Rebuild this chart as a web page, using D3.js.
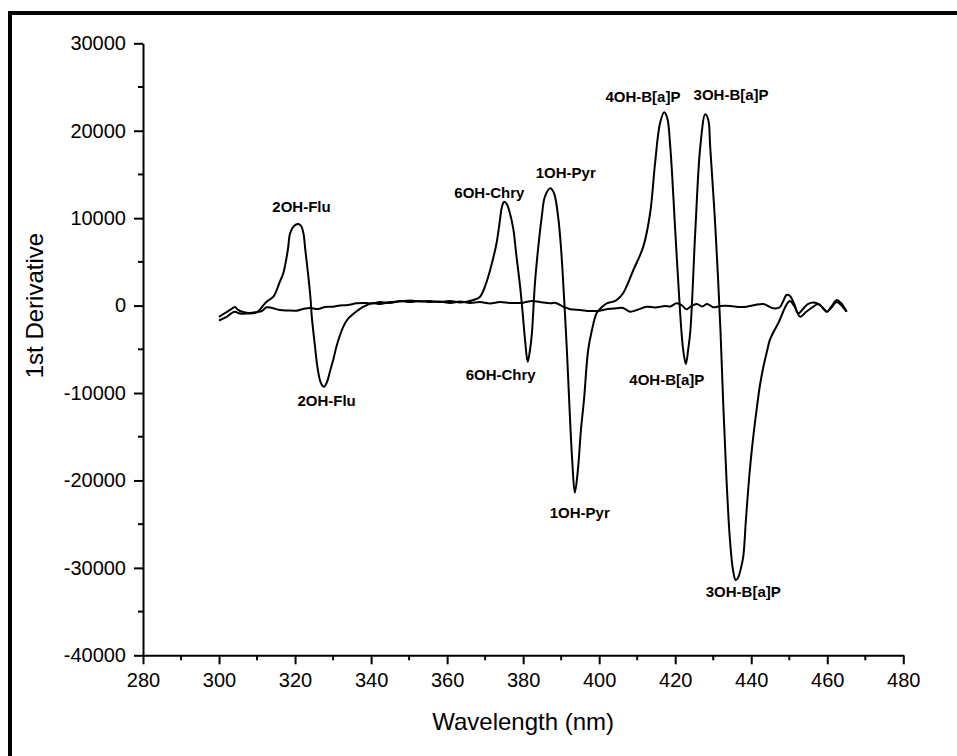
<!DOCTYPE html>
<html>
<head>
<meta charset="utf-8">
<script src="https://cdn.jsdelivr.net/npm/d3@7"></script>
<style>
  html, body { margin: 0; padding: 0; background: #fff; }
  svg { display: block; }
</style>
</head>
<body>
<svg id="chart" width="957" height="756"></svg>
<script>
// ---- Data ----
const wavelength = [300.0,302.0,304.0,305.5,307.5,309.9,312.5,314.3,316.0,316.9,318.1,318.7,319.7,320.9,321.6,322.2,322.7,323.5,324.1,324.4,325.2,326.0,326.8,327.6,328.4,329.2,330.1,331.0,332.7,333.9,334.9,336.3,338.0,340.5,342.3,345.0,347.6,350.2,352.9,355.5,358.1,360.8,363.4,365.2,366.9,368.6,370.4,371.8,373.0,373.9,374.4,375.0,375.7,376.5,377.4,378.2,379.2,379.8,380.5,381.2,381.8,382.3,383.1,383.9,384.9,385.7,387.1,388.1,389.2,390.0,390.6,391.5,392.1,392.9,393.6,394.4,395.2,396.0,397.1,398.1,399.3,400.2,402.0,403.7,404.6,406.3,409.0,411.6,413.4,414.7,416.0,417.1,417.9,418.7,420.0,421.3,422.1,422.8,423.4,424.0,425.3,426.6,427.9,428.7,429.2,430.6,431.9,432.7,433.5,434.4,435.2,435.9,436.5,437.3,437.9,438.6,439.4,440.2,441.4,442.3,443.2,444.1,444.9,446.0,447.1,448.4,449.5,450.2,451.3,452.9,454.4,456.3,457.6,458.6,459.9,461.0,462.5,463.6,465.1];
const sampleDeriv = [-1700,-1300,-700,-900,-900,-770,450,1020,2730,3690,6360,8270,9100,9330,9100,8270,6360,3300,640,-1270,-4500,-7360,-8850,-9280,-8740,-7500,-6100,-4500,-2410,-1530,-1100,-620,-130,300,180,410,470,580,470,530,410,530,350,450,640,980,2730,4870,7130,9790,11280,11880,11600,10600,8800,5790,2160,-500,-3930,-6420,-5080,-3170,2550,6360,10170,12420,13420,12880,10170,6360,2160,-5080,-10800,-17660,-21400,-18800,-14230,-10800,-5080,-2790,-880,-390,260,450,640,1410,4070,6740,10560,16280,20850,22110,21460,18180,8650,-880,-5080,-6680,-5080,-2790,8650,18180,21880,21230,18180,8650,-2790,-11940,-19950,-26810,-30240,-31390,-31160,-30010,-28720,-24520,-19950,-16300,-11940,-9080,-6990,-5310,-3930,-2900,-2020,-700,260,530,-50,-1270,-730,-130,180,-160,-700,-270,410,70,-700];

const blankWavelength = [300.0,301.6,302.9,304.2,305.0,306.3,308.1,309.9,311.3,312.5,313.9,316.0,318.1,320.4,322.1,323.9,326.0,327.9,330.0,331.8,333.9,336.2,338.4,340.5,342.3,345.0,347.6,350.2,352.9,355.5,358.1,360.8,363.4,366.0,368.6,371.3,373.9,376.5,380.0,382.3,384.4,387.1,388.6,390.6,392.4,395.0,397.6,400.2,402.3,404.6,406.3,408.1,410.0,412.5,414.7,417.3,418.7,420.4,421.8,423.0,424.2,425.7,427.1,428.4,430.0,431.9,434.5,436.6,438.8,441.0,443.2,444.4,445.8,447.5,448.3,449.3,450.2,451.3,452.4,453.6,454.9,456.8,458.1,459.9,461.0,462.5,463.6,465.1];
const blankDeriv = [-1300,-850,-500,-160,-500,-730,-850,-730,-620,-190,-270,-500,-560,-580,-390,-270,-390,-160,-130,10,70,260,300,240,410,300,530,410,530,410,470,300,470,300,410,240,410,300,330,530,410,260,300,-130,-420,-500,-620,-580,-390,-310,-270,-700,-500,-130,-220,-50,-100,260,10,-420,-50,180,-100,180,-190,-50,-50,-160,-130,70,180,-50,-310,-190,410,1210,1100,180,-880,-390,180,330,70,-700,-160,640,300,-700];

const xTicks = [280,300,320,340,360,380,400,420,440,460,480];
const yTicks = [-40000,-30000,-20000,-10000,0,10000,20000,30000];

const annotations = [
  {text: "2OH-Flu",   x: 321.7, y: 10700},
  {text: "2OH-Flu",   x: 328.3, y: -11480},
  {text: "6OH-Chry",  x: 371.1, y: 12300},
  {text: "6OH-Chry",  x: 374.1, y: -8510},
  {text: "1OH-Pyr",   x: 391.2, y: 14600},
  {text: "1OH-Pyr",   x: 394.9, y: -24300},
  {text: "4OH-B[a]P", x: 411.5, y: 23300},
  {text: "4OH-B[a]P", x: 417.8, y: -9080},
  {text: "3OH-B[a]P", x: 434.7, y: 23520},
  {text: "3OH-B[a]P", x: 437.9, y: -33330}
];

// ---- Layout ----
const svg = d3.select("#chart");
const mLeft = 143, mRight = 903.3, mTop = 43.3, mBottom = 655.3;

const x = d3.scaleLinear().domain([280, 480]).range([mLeft, mRight]);
const y = d3.scaleLinear().domain([-40000, 30000]).range([mBottom, mTop]);

// outer frame
svg.append("rect")
  .attr("x", 10).attr("y", 13)
  .attr("width", 1000).attr("height", 800)
  .attr("fill", "none").attr("stroke", "#000").attr("stroke-width", 4);

const font = "'Liberation Sans', Arial, sans-serif";

// minor ticks
const xMinor = d3.range(290, 480, 20);
const yMinor = d3.range(-35000, 30000, 10000);
svg.append("g").selectAll("line").data(xMinor).join("line")
  .attr("x1", d => x(d)).attr("x2", d => x(d))
  .attr("y1", mBottom).attr("y2", mBottom + 5)
  .attr("stroke", "#000").attr("stroke-width", 2);
svg.append("g").selectAll("line").data(yMinor).join("line")
  .attr("y1", d => y(d)).attr("y2", d => y(d))
  .attr("x1", mLeft).attr("x2", mLeft - 5)
  .attr("stroke", "#000").attr("stroke-width", 2);

// axes
const fmt = d => String(d);
const gx = svg.append("g").attr("transform", `translate(0,${mBottom})`)
  .call(d3.axisBottom(x).tickValues(xTicks).tickFormat(fmt).tickSizeInner(9).tickSizeOuter(0).tickPadding(9));
const gy = svg.append("g").attr("transform", `translate(${mLeft},0)`)
  .call(d3.axisLeft(y).tickValues(yTicks).tickFormat(fmt).tickSizeInner(9).tickSizeOuter(0).tickPadding(8));
[gx, gy].forEach(g => {
  g.select(".domain").attr("stroke-width", 2);
  g.selectAll(".tick line").attr("stroke-width", 2);
  g.selectAll(".tick text").attr("font-family", font).attr("font-size", 20).attr("fill", "#000");
});

// axis titles
svg.append("text")
  .attr("x", (mLeft + mRight) / 2).attr("y", 730)
  .attr("text-anchor", "middle")
  .attr("font-family", font).attr("font-size", 24)
  .text("Wavelength (nm)");
svg.append("text")
  .attr("transform", `translate(43,${y(0)}) rotate(-90)`)
  .attr("text-anchor", "middle")
  .attr("font-family", font).attr("font-size", 24)
  .text("1st Derivative");

// curves
const line = d3.line().curve(d3.curveCatmullRom.alpha(0.5));
svg.append("path")
  .datum(blankWavelength.map((w, i) => [x(w), y(blankDeriv[i])]))
  .attr("d", line)
  .attr("fill", "none").attr("stroke", "#000").attr("stroke-width", 2);
svg.append("path")
  .datum(wavelength.map((w, i) => [x(w), y(sampleDeriv[i])]))
  .attr("d", line)
  .attr("fill", "none").attr("stroke", "#000").attr("stroke-width", 2);

// annotations
svg.append("g").selectAll("text").data(annotations).join("text")
  .attr("x", d => x(d.x)).attr("y", d => y(d.y))
  .attr("text-anchor", "middle")
  .attr("font-family", font).attr("font-size", 15).attr("font-weight", "bold")
  .text(d => d.text);
</script>
</body>
</html>
